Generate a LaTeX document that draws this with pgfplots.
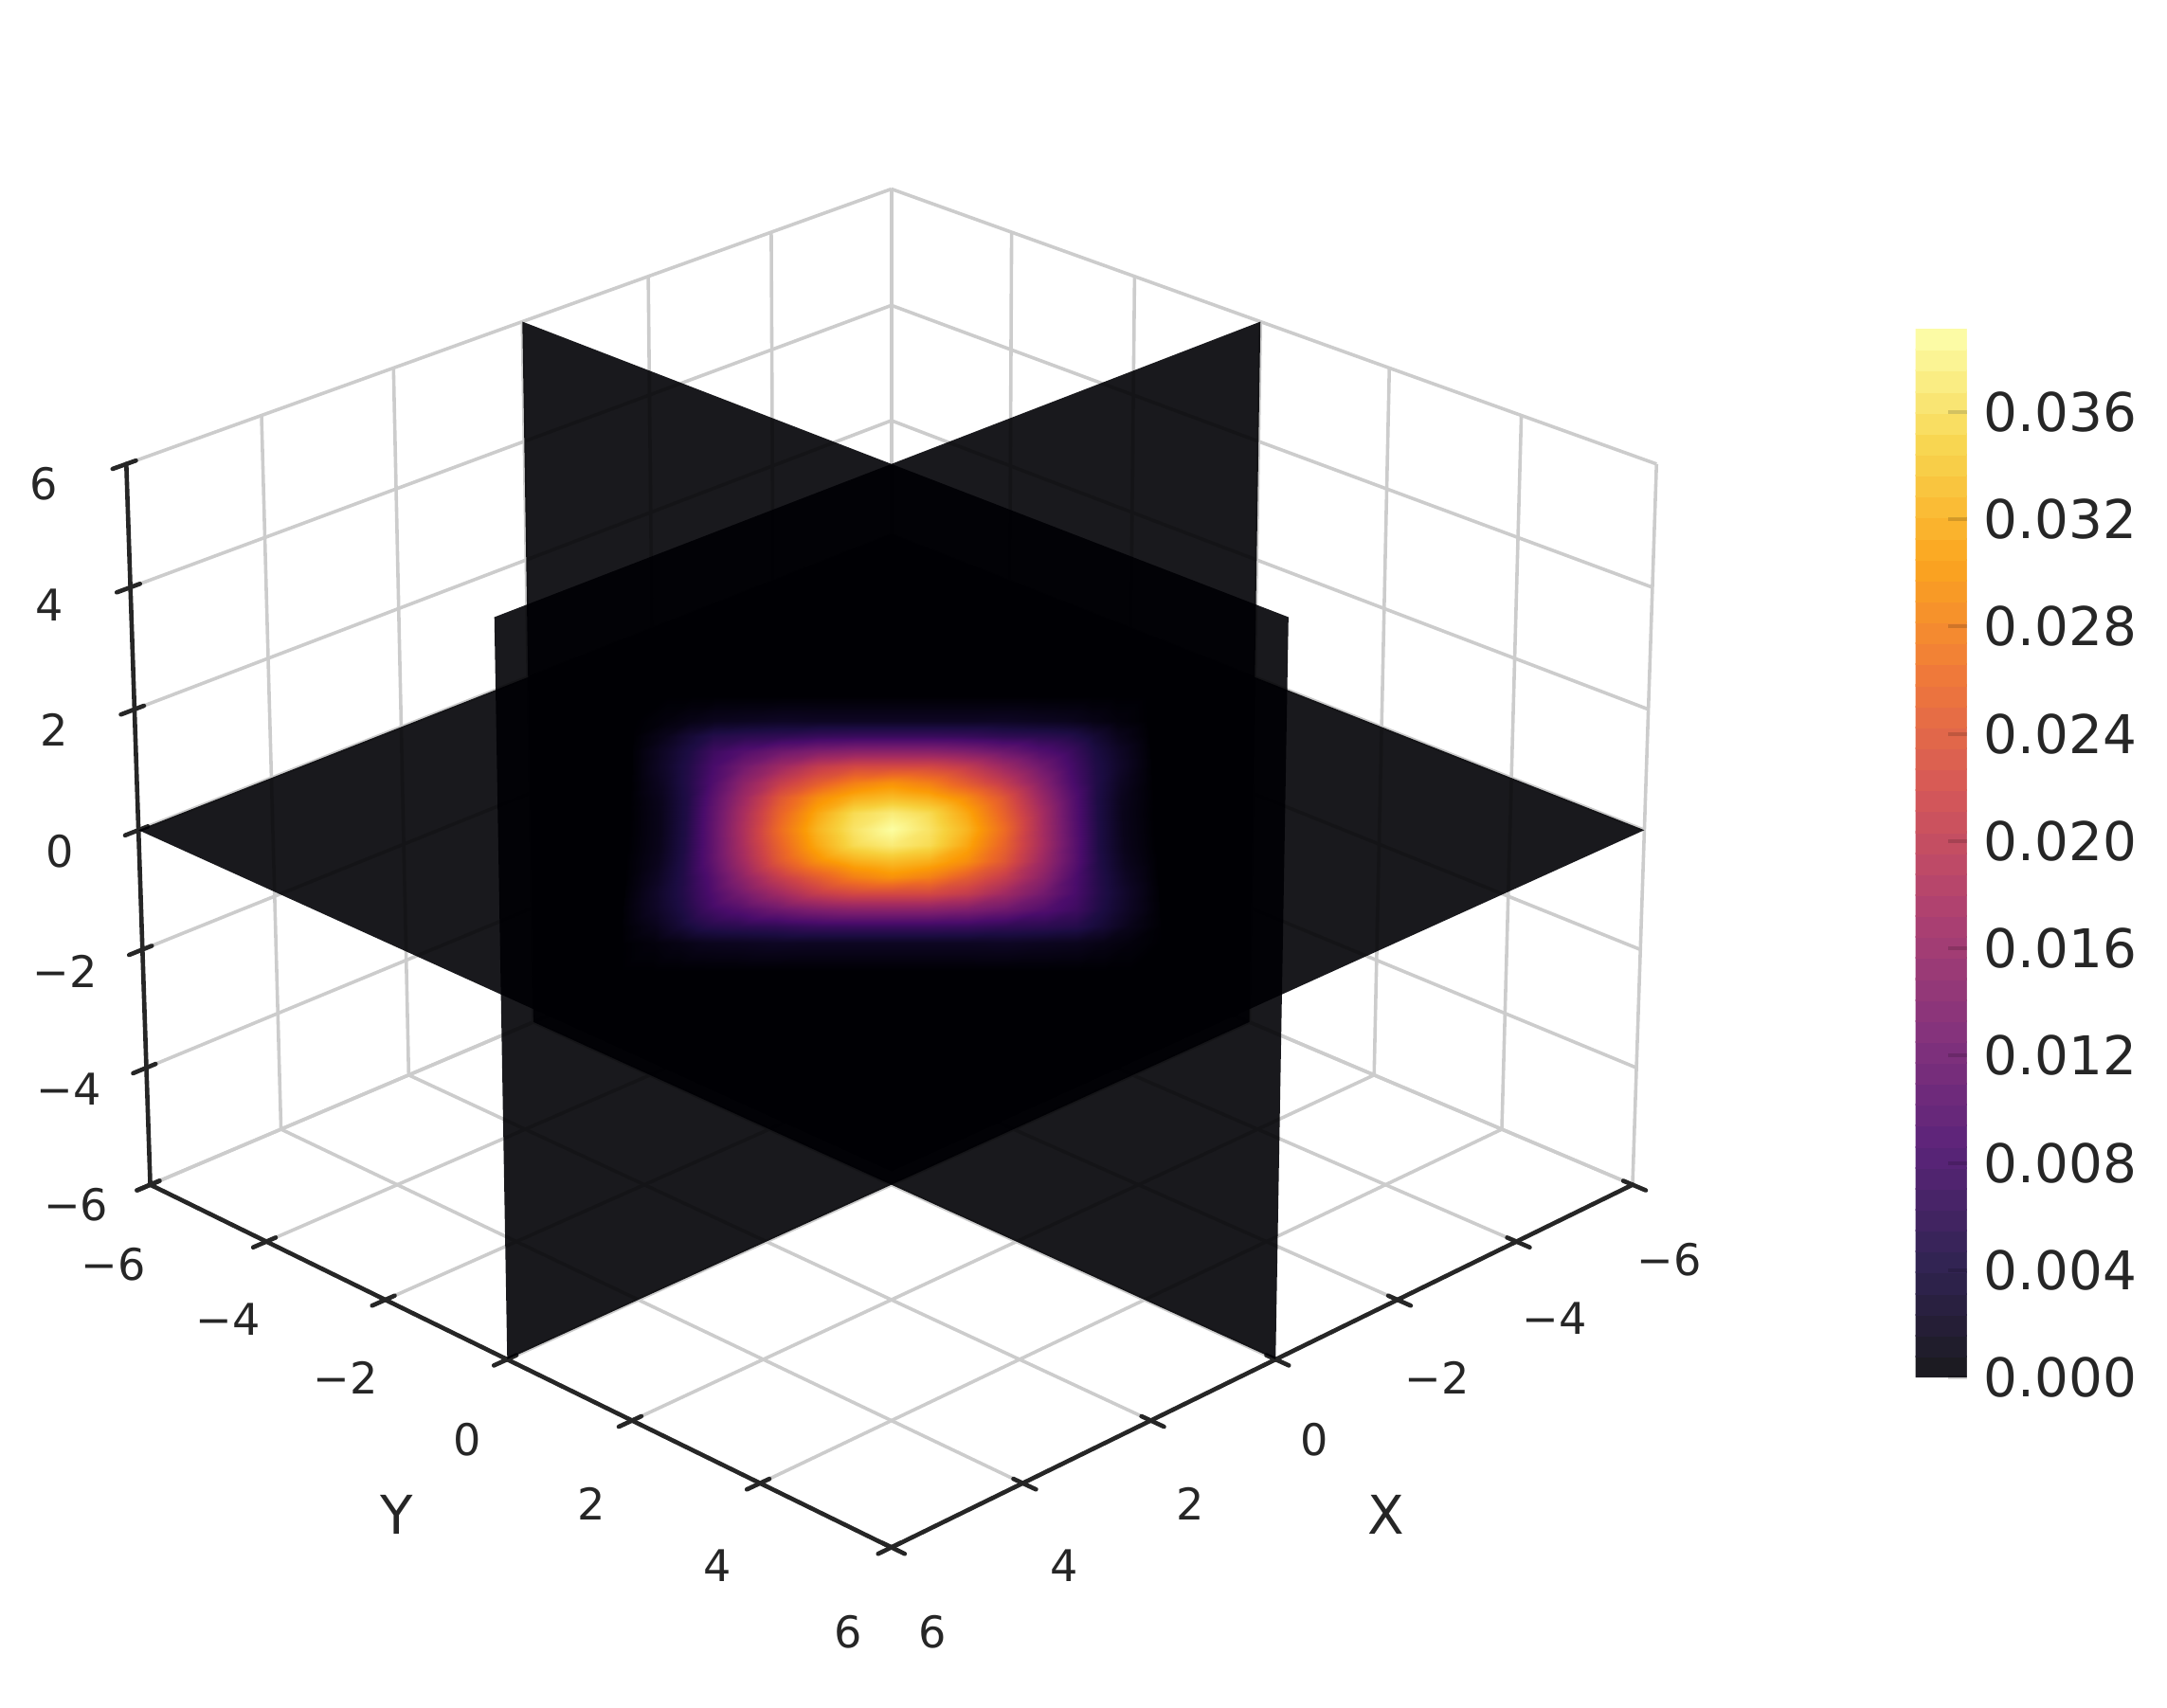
\documentclass[border=0pt]{standalone}
\usepackage{fontspec}
\setmainfont{DejaVu Sans}
\usepackage{pgfplots}
\pgfplotsset{compat=1.18}

\definecolor{textc}{RGB}{38,38,38}
\definecolor{gridc}{RGB}{204,204,204}
\definecolor{planec}{RGB}{0,0,4}

\pgfplotsset{
  colormap={infbar}{rgb255=(26,26,29) rgb255=(50,36,84) rgb255=(92,36,122) rgb255=(134,51,124) rgb255=(174,65,112) rgb255=(212,87,89) rgb255=(239,120,59) rgb255=(251,165,31) rgb255=(248,214,80) rgb255=(252,255,173)},
  colormap={inferno}{rgb255=(0,0,4) rgb255=(27,12,65) rgb255=(74,12,107) rgb255=(120,28,109) rgb255=(165,44,96) rgb255=(207,68,70) rgb255=(237,105,37) rgb255=(251,155,6) rgb255=(247,209,61) rgb255=(252,255,164)},
  % camera of the reference: data (x,y,z) to picture position
  table/persp/.style={
    row sep=\\,
    x expr={645-45.4*(\thisrow{x}-\thisrow{y})/(1-0.006*(\thisrow{x}+\thisrow{y})-0.00265*\thisrow{z})},
    y expr={1236-(600.8+15.5*(\thisrow{x}+\thisrow{y})-45.05*\thisrow{z})/(1-0.006*(\thisrow{x}+\thisrow{y})-0.00265*\thisrow{z})},
    z expr=0},
  gridline/.style={gridc,line width=0.7pt,no marks},
  axisline/.style={textc,line width=0.9pt,no marks,line cap=round},
  slice/.style={fill=planec,fill opacity=0.9,draw=none,no marks},
}
\tikzset{
  tl/.style={font=\fontsize{9}{9}\selectfont,text=textc,inner sep=0pt,anchor=center},
  al/.style={font=\fontsize{11}{11}\selectfont,text=textc,inner sep=0pt,anchor=center},
}

\begin{document}
\begin{tikzpicture}
\path[use as bounding box] (0,0) rectangle (15.68cm,12.36cm);
\begin{axis}[
    anchor=south west,
    at={(0,0)},
    scale only axis,
    width=15.68cm,
    height=12.36cm,
    xmin=0, xmax=1568,
    ymin=0, ymax=1236,
    zmin=-1, zmax=1,
    view={0}{90},
    hide axis,
    clip=false,
    colormap name=inferno,
    point meta min=0,
    point meta max=0.0391,
    colorbar sampled,
    colorbar style={
        samples=51,
        colormap name=infbar,
        anchor=south west,
        at={(parent axis.south west)},
        xshift=13.56cm,
        yshift=2.39cm,
        width=0.37cm,
        height=7.59cm,
        axis line style={draw=none},
        ytick={0,0.004,0.008,0.012,0.016,0.02,0.024,0.028,0.032,0.036},
        scaled y ticks=false,
        ytick pos=right,
        yticklabel pos=right,
        tick align=inside,
        major tick length=0.137cm,
        y tick style={black,opacity=0.15,line width=0.8pt},
        yticklabel style={
            /pgf/number format/.cd,fixed,fixed zerofill,precision=3,assume math mode=true,
            /tikz/.cd,font=\fontsize{11}{11}\selectfont,text=textc},
    },
]
% walls and floor
\pgfplotsinvokeforeach{-6,-4,-2,0,2,4,6}{
  \addplot3[gridline] table[persp] {x y z\\ #1 -6 -6\\ #1 -6 6\\};
  \addplot3[gridline] table[persp] {x y z\\ -6 #1 -6\\ -6 #1 6\\};
  \addplot3[gridline] table[persp] {x y z\\ #1 -6 -6\\ #1 6 -6\\};
  \addplot3[gridline] table[persp] {x y z\\ -6 #1 -6\\ 6 #1 -6\\};
  \addplot3[gridline] table[persp] {x y z\\ -6 -6 #1\\ 6 -6 #1\\};
  \addplot3[gridline] table[persp] {x y z\\ -6 -6 #1\\ -6 6 #1\\};
}
% axis lines and ticks
\addplot3[axisline] table[persp] {x y z\\ 6 -6 -6\\ 6 -6 6\\};
\addplot3[axisline] table[persp] {x y z\\ 6 -6 -6\\ 6 6 -6\\};
\addplot3[axisline] table[persp] {x y z\\ -6 6 -6\\ 6 6 -6\\};
\pgfplotsinvokeforeach{-6,-4,-2,0,2,4,6}{
  \addplot3[axisline] table[persp] {x y z\\ 5.86 -6 #1\\ 6.2 -6 #1\\};
  \addplot3[axisline] table[persp] {x y z\\ 5.86 #1 -6\\ 6.2 #1 -6\\};
  \addplot3[axisline] table[persp] {x y z\\ #1 5.86 -6\\ #1 6.2 -6\\};
}
% the three slices
\addplot3[slice] table[persp] {x y z\\ 0 -6 -6\\ 0 6 -6\\ 0 6 6\\ 0 -6 6\\} -- cycle;
\addplot3[slice] table[persp] {x y z\\ -6 0 -6\\ 6 0 -6\\ 6 0 6\\ -6 0 6\\} -- cycle;
\addplot3[slice] table[persp] {x y z\\ -6 -6 0\\ 6 -6 0\\ 6 6 0\\ -6 6 0\\} -- cycle;
% density on z=0, with u=x-y and v=x+y
\addplot3[surf,shader=interp,mesh/rows=17,point meta=\thisrow{c}] table[
    row sep=\\,
    x expr={645-45.25*\thisrow{u}/(1-0.006*\thisrow{v})},
    y expr={1236-(600+15.5*\thisrow{v})/(1-0.006*\thisrow{v})},
    z expr=0,
  ] {u v c\\
-4.2 -5.2 0\\ -4.2 -4.2 0\\ -4.2 -3.6 .0001\\ -4.2 -3 .0002\\ -4.2 -2.4 .0002\\ -4.2 -1.8 .0001\\ -4.2 -1.2 .0001\\ -4.2 -.6 0\\ -4.2 0 0\\ -4.2 .6 0\\ -4.2 1.2 .0001\\ -4.2 1.8 .0001\\ -4.2 2.4 .0002\\ -4.2 3 .0002\\ -4.2 3.6 .0001\\ -4.2 4.2 0\\ -4.2 5.2 0\\
-3.7 -5.2 0\\ -3.7 -4.2 .0006\\ -3.7 -3.6 .0016\\ -3.7 -3 .0024\\ -3.7 -2.4 .0026\\ -3.7 -1.8 .0022\\ -3.7 -1.2 .0018\\ -3.7 -.6 .0016\\ -3.7 0 .0016\\ -3.7 .6 .0016\\ -3.7 1.2 .0018\\ -3.7 1.8 .0022\\ -3.7 2.4 .0026\\ -3.7 3 .0024\\ -3.7 3.6 .0016\\ -3.7 4.2 .0006\\ -3.7 5.2 0\\
-3.3 -5.2 0\\ -3.3 -4.2 .0012\\ -3.3 -3.6 .0035\\ -3.3 -3 .0045\\ -3.3 -2.4 .005\\ -3.3 -1.8 .005\\ -3.3 -1.2 .0048\\ -3.3 -.6 .0047\\ -3.3 0 .0047\\ -3.3 .6 .0047\\ -3.3 1.2 .0048\\ -3.3 1.8 .005\\ -3.3 2.4 .005\\ -3.3 3 .0045\\ -3.3 3.6 .0035\\ -3.3 4.2 .0012\\ -3.3 5.2 0\\
-2.9 -5.2 0\\ -2.9 -4.2 .0018\\ -2.9 -3.6 .0052\\ -2.9 -3 .0075\\ -2.9 -2.4 .0085\\ -2.9 -1.8 .009\\ -2.9 -1.2 .01\\ -2.9 -.6 .0103\\ -2.9 0 .0103\\ -2.9 .6 .0103\\ -2.9 1.2 .01\\ -2.9 1.8 .009\\ -2.9 2.4 .0085\\ -2.9 3 .0075\\ -2.9 3.6 .0052\\ -2.9 4.2 .0018\\ -2.9 5.2 0\\
-2.4 -5.2 0\\ -2.4 -4.2 .002\\ -2.4 -3.6 .0058\\ -2.4 -3 .0095\\ -2.4 -2.4 .0125\\ -2.4 -1.8 .0148\\ -2.4 -1.2 .0165\\ -2.4 -.6 .0175\\ -2.4 0 .0177\\ -2.4 .6 .0175\\ -2.4 1.2 .0165\\ -2.4 1.8 .0148\\ -2.4 2.4 .0125\\ -2.4 3 .0095\\ -2.4 3.6 .0058\\ -2.4 4.2 .002\\ -2.4 5.2 0\\
-1.8 -5.2 0\\ -1.8 -4.2 .0023\\ -1.8 -3.6 .0062\\ -1.8 -3 .012\\ -1.8 -2.4 .0167\\ -1.8 -1.8 .0205\\ -1.8 -1.2 .024\\ -1.8 -.6 .0253\\ -1.8 0 .0262\\ -1.8 .6 .0253\\ -1.8 1.2 .024\\ -1.8 1.8 .0205\\ -1.8 2.4 .0167\\ -1.8 3 .012\\ -1.8 3.6 .0062\\ -1.8 4.2 .0023\\ -1.8 5.2 0\\
-1.2 -5.2 0\\ -1.2 -4.2 .0022\\ -1.2 -3.6 .0069\\ -1.2 -3 .0137\\ -1.2 -2.4 .0204\\ -1.2 -1.8 .0245\\ -1.2 -1.2 .0292\\ -1.2 -.6 .0314\\ -1.2 0 .0325\\ -1.2 .6 .0314\\ -1.2 1.2 .0292\\ -1.2 1.8 .0245\\ -1.2 2.4 .0204\\ -1.2 3 .0137\\ -1.2 3.6 .0069\\ -1.2 4.2 .0022\\ -1.2 5.2 0\\
-.6 -5.2 0\\ -.6 -4.2 .0022\\ -.6 -3.6 .0071\\ -.6 -3 .0146\\ -.6 -2.4 .0222\\ -.6 -1.8 .028\\ -.6 -1.2 .032\\ -.6 -.6 .0357\\ -.6 0 .0365\\ -.6 .6 .0357\\ -.6 1.2 .032\\ -.6 1.8 .028\\ -.6 2.4 .0222\\ -.6 3 .0146\\ -.6 3.6 .0071\\ -.6 4.2 .0022\\ -.6 5.2 0\\
0 -5.2 0\\ 0 -4.2 .0022\\ 0 -3.6 .0071\\ 0 -3 .0147\\ 0 -2.4 .0223\\ 0 -1.8 .0295\\ 0 -1.2 .0331\\ 0 -.6 .0372\\ 0 0 .039\\ 0 .6 .0372\\ 0 1.2 .0331\\ 0 1.8 .0295\\ 0 2.4 .0223\\ 0 3 .0147\\ 0 3.6 .0071\\ 0 4.2 .0022\\ 0 5.2 0\\
.6 -5.2 0\\ .6 -4.2 .0022\\ .6 -3.6 .0071\\ .6 -3 .0146\\ .6 -2.4 .0222\\ .6 -1.8 .028\\ .6 -1.2 .032\\ .6 -.6 .0357\\ .6 0 .0365\\ .6 .6 .0357\\ .6 1.2 .032\\ .6 1.8 .028\\ .6 2.4 .0222\\ .6 3 .0146\\ .6 3.6 .0071\\ .6 4.2 .0022\\ .6 5.2 0\\
1.2 -5.2 0\\ 1.2 -4.2 .0022\\ 1.2 -3.6 .0069\\ 1.2 -3 .0137\\ 1.2 -2.4 .0204\\ 1.2 -1.8 .0245\\ 1.2 -1.2 .0292\\ 1.2 -.6 .0314\\ 1.2 0 .0325\\ 1.2 .6 .0314\\ 1.2 1.2 .0292\\ 1.2 1.8 .0245\\ 1.2 2.4 .0204\\ 1.2 3 .0137\\ 1.2 3.6 .0069\\ 1.2 4.2 .0022\\ 1.2 5.2 0\\
1.8 -5.2 0\\ 1.8 -4.2 .0023\\ 1.8 -3.6 .0062\\ 1.8 -3 .012\\ 1.8 -2.4 .0167\\ 1.8 -1.8 .0205\\ 1.8 -1.2 .024\\ 1.8 -.6 .0253\\ 1.8 0 .0262\\ 1.8 .6 .0253\\ 1.8 1.2 .024\\ 1.8 1.8 .0205\\ 1.8 2.4 .0167\\ 1.8 3 .012\\ 1.8 3.6 .0062\\ 1.8 4.2 .0023\\ 1.8 5.2 0\\
2.4 -5.2 0\\ 2.4 -4.2 .002\\ 2.4 -3.6 .0058\\ 2.4 -3 .0095\\ 2.4 -2.4 .0125\\ 2.4 -1.8 .0148\\ 2.4 -1.2 .0165\\ 2.4 -.6 .0175\\ 2.4 0 .0177\\ 2.4 .6 .0175\\ 2.4 1.2 .0165\\ 2.4 1.8 .0148\\ 2.4 2.4 .0125\\ 2.4 3 .0095\\ 2.4 3.6 .0058\\ 2.4 4.2 .002\\ 2.4 5.2 0\\
2.9 -5.2 0\\ 2.9 -4.2 .0018\\ 2.9 -3.6 .0052\\ 2.9 -3 .0075\\ 2.9 -2.4 .0085\\ 2.9 -1.8 .009\\ 2.9 -1.2 .01\\ 2.9 -.6 .0103\\ 2.9 0 .0103\\ 2.9 .6 .0103\\ 2.9 1.2 .01\\ 2.9 1.8 .009\\ 2.9 2.4 .0085\\ 2.9 3 .0075\\ 2.9 3.6 .0052\\ 2.9 4.2 .0018\\ 2.9 5.2 0\\
3.3 -5.2 0\\ 3.3 -4.2 .0012\\ 3.3 -3.6 .0035\\ 3.3 -3 .0045\\ 3.3 -2.4 .005\\ 3.3 -1.8 .005\\ 3.3 -1.2 .0048\\ 3.3 -.6 .0047\\ 3.3 0 .0047\\ 3.3 .6 .0047\\ 3.3 1.2 .0048\\ 3.3 1.8 .005\\ 3.3 2.4 .005\\ 3.3 3 .0045\\ 3.3 3.6 .0035\\ 3.3 4.2 .0012\\ 3.3 5.2 0\\
3.7 -5.2 0\\ 3.7 -4.2 .0006\\ 3.7 -3.6 .0016\\ 3.7 -3 .0024\\ 3.7 -2.4 .0026\\ 3.7 -1.8 .0022\\ 3.7 -1.2 .0018\\ 3.7 -.6 .0016\\ 3.7 0 .0016\\ 3.7 .6 .0016\\ 3.7 1.2 .0018\\ 3.7 1.8 .0022\\ 3.7 2.4 .0026\\ 3.7 3 .0024\\ 3.7 3.6 .0016\\ 3.7 4.2 .0006\\ 3.7 5.2 0\\
4.2 -5.2 0\\ 4.2 -4.2 0\\ 4.2 -3.6 .0001\\ 4.2 -3 .0002\\ 4.2 -2.4 .0002\\ 4.2 -1.8 .0001\\ 4.2 -1.2 .0001\\ 4.2 -.6 0\\ 4.2 0 0\\ 4.2 .6 0\\ 4.2 1.2 .0001\\ 4.2 1.8 .0001\\ 4.2 2.4 .0002\\ 4.2 3 .0002\\ 4.2 3.6 .0001\\ 4.2 4.2 0\\ 4.2 5.2 0\\
};
% tick labels
\node[tl] at (axis cs:32,886,0) {6};
\node[tl] at (axis cs:36,798,0) {4};
\node[tl] at (axis cs:39,708,0) {2};
\node[tl] at (axis cs:43,620,0) {0};
\node[tl] at (axis cs:47,533,0) {−2};
\node[tl] at (axis cs:50,448,0) {−4};
\node[tl] at (axis cs:55,364,0) {−6};
\node[tl] at (axis cs:82,321,0) {−6};
\node[tl] at (axis cs:165,281,0) {−4};
\node[tl] at (axis cs:250,239,0) {−2};
\node[tl] at (axis cs:338,194,0) {0};
\node[tl] at (axis cs:428,148,0) {2};
\node[tl] at (axis cs:519,103,0) {4};
\node[tl] at (axis cs:614,55,0) {6};
\node[tl] at (axis cs:1208,324,0) {−6};
\node[tl] at (axis cs:1125,282,0) {−4};
\node[tl] at (axis cs:1040,239,0) {−2};
\node[tl] at (axis cs:951,194,0) {0};
\node[tl] at (axis cs:861,148,0) {2};
\node[tl] at (axis cs:770,103,0) {4};
\node[tl] at (axis cs:675,55,0) {6};
\node[al] at (axis cs:287,140,0) {Y};
\node[al] at (axis cs:1003,140,0) {X};
\end{axis}
\end{tikzpicture}
\end{document}
